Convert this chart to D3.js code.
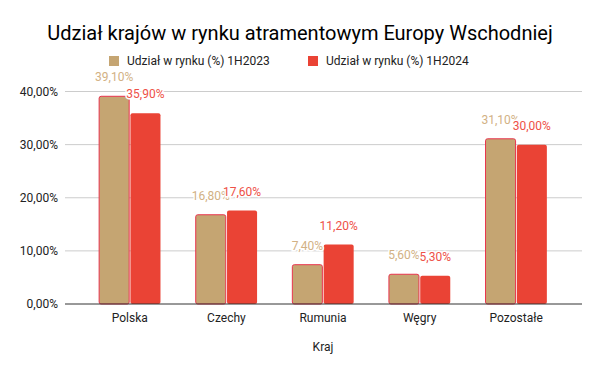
<!DOCTYPE html>
<html>
<head>
<meta charset="utf-8">
<script src="https://cdn.jsdelivr.net/npm/d3@7"></script>
<style>
  body { margin: 0; background: #fff; }
  svg { font-family: Roboto, "Noto Sans", sans-serif; }
</style>
</head>
<body>
<svg id="chart"></svg>
<script>
// data
const countries = ["Polska", "Czechy", "Rumunia", "Węgry", "Pozostałe"];
const share2023 = [39.1, 16.8, 7.4, 5.6, 31.1];
const share2024 = [35.9, 17.6, 11.2, 5.3, 30.0];
const seriesNames = ["Udział w rynku (%) 1H2023", "Udział w rynku (%) 1H2024"];
const yTicks = [0, 10, 20, 30, 40];

const width = 600, height = 371;
const colors = ["#c5a572", "#ea4335"];
const labelColors = ["#d2b184", "#ee5147"];

const svg = d3.select("#chart")
    .attr("width", width)
    .attr("height", height);

const fmt = v => d3.format(".2f")(v).replace(".", ",") + "%";

// scales
const x = d3.scaleBand()
    .domain(countries)
    .range([81.75, 564.25])
    .paddingInner(0.365)
    .paddingOuter(0.18);

const x1 = d3.scaleBand()
    .domain([0, 1])
    .range([0, x.bandwidth()])
    .paddingInner(0.04);

const y = d3.scaleLinear()
    .domain([0, 40])
    .range([304, 91.5]);

// title
svg.append("text")
    .attr("x", 300)
    .attr("y", 40)
    .attr("text-anchor", "middle")
    .style("font-size", "20px")
    .style("fill", "#000")
    .text("Udział krajów w rynku atramentowym Europy Wschodniej");

// legend
const legendX = [109, 308];
seriesNames.forEach((name, i) => {
    svg.append("rect")
        .attr("x", legendX[i])
        .attr("y", 56)
        .attr("width", 10)
        .attr("height", 10)
        .attr("fill", colors[i]);
    svg.append("text")
        .attr("x", legendX[i] + 18)
        .attr("y", 65)
        .style("font-size", "12px")
        .style("fill", "#222")
        .text(name);
});

// gridlines
svg.append("g")
    .selectAll("line")
    .data(yTicks.slice(1))
    .join("line")
        .attr("x1", 65)
        .attr("x2", 582)
        .attr("y1", d => y(d))
        .attr("y2", d => y(d))
        .attr("stroke", "#cccccc")
        .attr("stroke-width", 1);

// y axis
const yAxis = d3.axisLeft(y)
    .tickValues(yTicks)
    .tickSize(0)
    .tickPadding(7)
    .tickFormat(fmt);

const yAxisGroup = svg.append("g")
    .attr("transform", "translate(65,0)")
    .call(yAxis);
yAxisGroup.select(".domain").remove();
yAxisGroup.selectAll("text")
    .style("font-size", "12px")
    .style("font-family", "Roboto, sans-serif")
    .attr("fill", "#222");

// bars
const groups = svg.append("g")
    .selectAll("g")
    .data(countries)
    .join("g")
        .attr("transform", d => `translate(${x(d)},0)`);

const barData = (c, idx) => [
    {s: 0, v: share2023[idx]},
    {s: 1, v: share2024[idx]}
];

groups.selectAll("rect")
    .data((c, idx) => barData(c, idx))
    .join("rect")
        .attr("x", d => x1(d.s))
        .attr("y", d => y(d.v))
        .attr("width", x1.bandwidth())
        .attr("height", d => y(0) - y(d.v))
        .attr("rx", 2)
        .attr("fill", d => colors[d.s])
        .attr("stroke", d => d.s === 0 ? "#e8344e" : "none")
        .attr("stroke-width", 1);

// value labels
groups.selectAll("text")
    .data((c, idx) => barData(c, idx))
    .join("text")
        .attr("x", d => x1(d.s) + x1.bandwidth() / 2)
        .attr("y", d => y(d.v) - 15)
        .attr("text-anchor", "middle")
        .style("font-size", "12px")
        .style("paint-order", "stroke")
        .attr("stroke", "#fff")
        .attr("stroke-width", 3)
        .attr("fill", d => labelColors[d.s])
        .text(d => fmt(d.v));

// x axis
const xAxis = d3.axisBottom(x).tickSize(0).tickPadding(9);
const xAxisGroup = svg.append("g")
    .attr("transform", "translate(0,304)")
    .call(xAxis);
xAxisGroup.select(".domain").remove();
xAxisGroup.selectAll("text")
    .style("font-size", "12px")
    .style("font-family", "Roboto, sans-serif")
    .attr("fill", "#222");

svg.append("line")
    .attr("x1", 65)
    .attr("x2", 582)
    .attr("y1", 304)
    .attr("y2", 304)
    .attr("stroke", "#333")
    .attr("stroke-width", 1);

// x axis title
svg.append("text")
    .attr("x", (81.75 + 564.25) / 2)
    .attr("y", 351)
    .attr("text-anchor", "middle")
    .style("font-size", "12px")
    .style("fill", "#222")
    .text("Kraj");
</script>
</body>
</html>
